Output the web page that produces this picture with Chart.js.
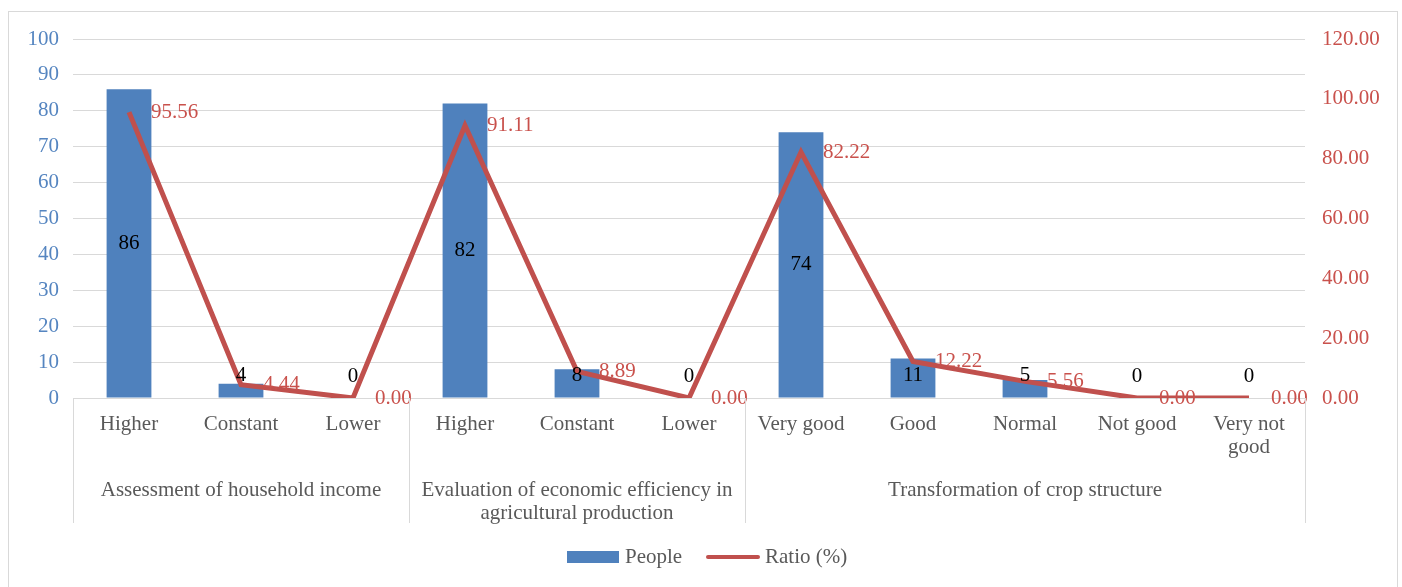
<!DOCTYPE html>
<html>
<head>
<meta charset="utf-8">
<title>People and ratio</title>
<script src="https://cdn.jsdelivr.net/npm/chart.js@4.4.1/dist/chart.umd.min.js"></script>
<style>
  html, body { margin: 0; padding: 0; background: #fff; }
  #chart { display: block; }
</style>
</head>
<body>
<canvas id="chart" width="1402" height="587"></canvas>
<script>
// --- data ---
const categories = ['Higher', 'Constant', 'Lower', 'Higher', 'Constant', 'Lower',
  'Very good', 'Good', 'Normal', 'Not good', ['Very not', 'good']];
const people = [86, 4, 0, 82, 8, 0, 74, 11, 5, 0, 0];
const ratio = [95.56, 4.44, 0, 91.11, 8.89, 0, 82.22, 12.22, 5.56, 0, 0];
const groupNames = [
  ['Assessment of household income'],
  ['Evaluation of economic efficiency in', 'agricultural production'],
  ['Transformation of crop structure']
];
const groupSizes = [3, 3, 5];
const leftTicks = { min: 0, max: 100, step: 10 };
const rightTicks = { min: 0, max: 120, step: 20 };

const FONT = "'Liberation Serif', 'Times New Roman', serif";
const BLUE = '#4f81bd';
const RED = '#c0504d';
const GREY = '#d9d9d9';
const TEXT = '#595959';

// labels, group captions, separators, legend and frame
const extras = {
  id: 'extras',
  afterDatasetsDraw(chart) {
    const ctx = chart.ctx;
    const x = chart.scales.x;
    const area = chart.chartArea;
    ctx.save();
    ctx.font = '21px ' + FONT;

    // bar values
    const barMeta = chart.getDatasetMeta(0);
    ctx.fillStyle = '#000';
    ctx.textAlign = 'center';
    ctx.textBaseline = 'middle';
    barMeta.data.forEach((bar, i) => {
      const mid = (bar.y + bar.base) / 2;
      ctx.fillText(String(people[i]), bar.x, Math.min(mid, bar.base - 22));
    });

    // ratio values
    const lineMeta = chart.getDatasetMeta(1);
    ctx.fillStyle = '#c9514c';
    ctx.textAlign = 'left';
    lineMeta.data.forEach((pt, i) => {
      ctx.fillText(ratio[i].toFixed(2), pt.x + 22, pt.y);
    });

    // category group separators and captions
    const step = (x.right - x.left) / categories.length;
    ctx.strokeStyle = GREY;
    ctx.lineWidth = 1;
    let start = 0;
    const bounds = [x.left];
    groupSizes.forEach(n => { start += n; bounds.push(x.left + start * step); });
    bounds.forEach(bx => {
      const px = Math.round(bx) + 0.5;
      ctx.beginPath();
      ctx.moveTo(px, area.bottom);
      ctx.lineTo(px, area.bottom + 125);
      ctx.stroke();
    });
    ctx.fillStyle = TEXT;
    ctx.textAlign = 'center';
    groupNames.forEach((lines, g) => {
      const cx = (bounds[g] + bounds[g + 1]) / 2;
      lines.forEach((t, k) => ctx.fillText(t, cx, 490 + k * 23));
    });

    // legend
    ctx.fillStyle = BLUE;
    ctx.fillRect(567, 551, 52, 12);
    ctx.fillStyle = TEXT;
    ctx.textAlign = 'left';
    ctx.fillText('People', 625, 557);
    ctx.strokeStyle = RED;
    ctx.lineWidth = 4;
    ctx.lineCap = 'round';
    ctx.beginPath();
    ctx.moveTo(708, 557);
    ctx.lineTo(758, 557);
    ctx.stroke();
    ctx.fillText('Ratio (%)', 765, 557);

    // outer frame
    ctx.strokeStyle = GREY;
    ctx.lineWidth = 1;
    ctx.lineCap = 'butt';
    ctx.strokeRect(8.5, 11.5, 1389, 600);
    ctx.restore();
  }
};

new Chart(document.getElementById('chart'), {
  data: {
    labels: categories,
    datasets: [
      {
        type: 'bar',
        label: 'People',
        data: people,
        yAxisID: 'y',
        backgroundColor: BLUE,
        categoryPercentage: 1,
        barPercentage: 0.4,
        order: 1
      },
      {
        type: 'line',
        label: 'Ratio (%)',
        data: ratio,
        yAxisID: 'y1',
        borderColor: RED,
        borderWidth: 5,
        borderJoinStyle: 'miter',
        pointRadius: 0,
        tension: 0,
        order: 0
      }
    ]
  },
  options: {
    responsive: false,
    animation: false,
    devicePixelRatio: 1,
    layout: { padding: { top: 39, left: 0, right: 0, bottom: 0 } },
    plugins: {
      legend: { display: false },
      tooltip: { enabled: false }
    },
    scales: {
      x: {
        grid: { display: false, drawTicks: false },
        border: { display: true, color: GREY },
        ticks: {
          autoSkip: false,
          maxRotation: 0,
          padding: 15,
          color: TEXT,
          font: { family: FONT, size: 21, lineHeight: 1.1 }
        },
        afterFit(scale) { scale.height = 587 - 398; }
      },
      y: {
        position: 'left',
        min: leftTicks.min,
        max: leftTicks.max,
        ticks: {
          stepSize: leftTicks.step,
          padding: 14,
          color: '#5585c0',
          font: { family: FONT, size: 21 }
        },
        grid: { color: GREY, drawTicks: false },
        border: { display: false },
        afterFit(scale) { scale.width = 73; }
      },
      y1: {
        position: 'right',
        min: rightTicks.min,
        max: rightTicks.max,
        ticks: {
          stepSize: rightTicks.step,
          padding: 17,
          color: '#c9514c',
          font: { family: FONT, size: 21 },
          callback: v => Number(v).toFixed(2)
        },
        grid: { display: false, drawTicks: false },
        border: { display: false },
        afterFit(scale) { scale.width = 1402 - 1305; }
      }
    }
  },
  plugins: [extras]
});
</script>
</body>
</html>
